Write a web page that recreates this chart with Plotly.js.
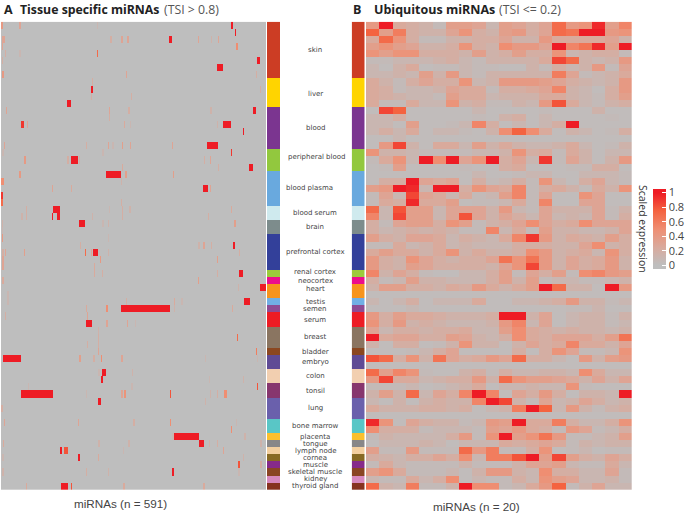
<!DOCTYPE html>
<html>
<head>
<meta charset="utf-8">
<script src="https://cdn.plot.ly/plotly-3.0.1.min.js"></script>
<style>html,body{margin:0;padding:0;background:#fff}#c{width:685px;height:514px}</style>
</head>
<body>
<div id="c"></div>
<script>
const tissues = ["skin","liver","blood","peripheral blood","blood plasma","blood serum","brain","prefrontal cortex","renal cortex","neocortex","heart","testis","semen","serum","breast","bladder","embryo","colon","tonsil","lung","bone marrow","placenta","tongue","lymph node","cornea","muscle","skeletal muscle","kidney","thyroid gland"];
const tissueRows = [8,4,6,3,5,2,2,5,1,1,2,1,1,2,3,1,2,2,2,3,2,1,1,1,1,1,1,1,1];
const tissueColors = ["#cc3d24","#ffd400","#7b3590","#92c83e","#69a9de","#cfeaee","#7d8c8c","#33409a","#9ccb3b","#ec0d8c","#f7941d","#71afe5","#8d4c94","#ed1c24","#8a7561","#8b4720","#5f4b95","#f2cfb0","#87366e","#6a60ac","#59c6c6","#fbc02d","#888788","#f3cf9f","#886a24","#862a8a","#8a4523","#d789be","#86321f"];
const labelShiftX = {"peripheral blood":2,"blood plasma":-6};
const labelShiftY = {"peripheral blood":3,"heart":2,"renal cortex":2,"liver":-1};

const ubiquitous = [
[.4,1,.25,.2,.15,.05,.35,.35,.3,.1,.35,.3,.2,.3,.7,.4,.45,.95,.35,.55],
[.75,.35,.6,.2,.15,.15,.3,.45,.2,.15,.35,.4,.2,.3,.7,.65,1,1,.4,.45],
[.25,.7,.45,.2,.05,.05,.15,.15,.2,.2,.3,.15,.15,.4,.25,.25,.25,.25,.3,.15],
[.35,.45,.35,.3,.15,.15,.2,.45,.2,.15,.5,.4,.4,.3,1,.55,.65,.95,.35,1],
[.45,.35,.45,.45,.2,.2,.2,.15,.35,.15,.2,.35,.2,.2,.45,.1,.15,.2,.2,.05],
[.05,.05,.1,.1,.1,.15,.2,.1,.05,.15,.15,.15,.15,.25,.85,.7,.15,.1,.15,.4],
[.1,.03,.15,.25,.03,.05,.05,.1,.05,.05,.03,.03,.15,.05,.2,.1,.15,.4,.05,.3],
[.1,.1,.15,.1,.35,.15,.4,.1,.05,.15,.15,.15,.15,.15,.6,.3,.05,.1,.15,.25],
[.25,.15,.05,.2,.3,.2,.2,.45,.1,.15,.4,.4,.4,.35,.3,.2,.15,.1,.15,.4],
[.25,.2,.05,.1,.1,.15,.3,.25,.25,.05,.2,.2,.25,.3,.55,.15,.1,.03,.2,.4],
[.25,.2,.15,.1,.1,.05,.35,.25,.25,.1,.15,.15,.15,.25,.25,.15,.1,.05,.2,.35],
[.25,.05,.05,.25,.1,.1,.45,.15,.2,.05,.05,.15,.1,.4,.8,.25,.1,.05,.15,.2],
[.03,.85,.75,.03,.03,.03,.03,.03,.1,.03,.03,.03,.03,.05,.03,.03,.03,.15,.03,.03],
[.1,.1,.2,.03,.03,.03,.03,.03,.05,.03,.15,.2,.03,.1,.03,.03,.03,.03,.05,.03],
[.1,.1,.03,.35,.03,.03,.05,.1,.55,.2,.03,.1,.03,.1,.2,1,.03,.03,.03,.03],
[.1,.2,.1,.25,.03,.1,.1,.05,.03,.15,.5,.75,.5,.25,.03,.15,.1,.03,.05,.2],
[.03,.03,.1,.03,.03,.03,.03,.03,.03,.03,.03,.03,.03,.03,.03,.03,.03,.03,.03,.03],
[.03,.4,.85,.15,.03,.25,.25,.1,.35,.15,.25,.15,.1,.1,.15,.25,.1,.03,.05,.15],
[.45,.15,.15,.1,.05,.05,.05,.05,.1,.1,.15,.45,.2,.25,.05,.25,.15,.03,.1,.1],
[.05,.25,.45,.1,1,.5,1,.3,.45,1,.2,.3,.1,.9,.05,.3,.15,.03,.15,.4],
[.03,.05,.35,.03,.03,.03,.03,.05,.03,.03,.2,.25,.03,.03,.03,.05,.05,.2,.2,.03],
[.03,.03,.03,.03,.03,.03,.03,.03,.1,.03,.03,.05,.1,.1,.03,.03,.1,.1,.1,.05],
[.03,.2,.2,1,.3,.25,.3,.03,.2,.05,.1,.2,.05,.45,.1,.03,.2,.3,.1,.05],
[.35,.4,1,.95,.1,1,1,.2,.45,.3,.25,.55,.05,.2,.25,.15,.05,.25,.15,.45],
[.05,.3,.1,.85,.3,.25,.1,.25,.05,.1,.35,.55,.05,.3,.03,.03,.45,.3,.03,.03],
[.05,.25,.2,.95,.25,.25,.35,.03,.05,.05,.1,.25,.05,.55,.03,.03,.3,.3,.03,.03],
[.7,.1,.8,.35,.35,.1,.3,.3,.3,.15,.4,.1,.05,.3,.15,.15,.15,.3,.05,.15],
[.55,.1,.85,.35,.35,.1,.3,.8,.3,.15,.3,.2,.1,.3,.1,.15,.1,.3,.05,.2],
[.2,.05,.3,.35,.35,.2,.45,.35,.05,.15,.2,.3,.5,.3,.2,.25,.5,.3,.3,.3],
[.2,.1,.15,.2,.15,.2,.15,.05,.05,.55,.1,.25,.05,.35,.15,.15,.1,.1,.15,.3],
[.35,.2,.15,.3,.3,.25,.1,.2,.15,.1,.25,.55,.9,.4,.15,.25,.2,.15,.35,.2],
[.05,.05,.25,.1,.15,.25,.1,.15,.1,.1,.1,.2,.2,.2,.15,.15,.3,.5,.15,.2],
[.25,.35,.25,.25,.15,.25,.45,.15,.25,.15,.15,.2,.5,.4,.15,.2,.25,.1,.45,.2],
[.4,.2,.15,.45,.3,.2,.15,.2,.2,.3,.65,.45,.65,.4,.15,.3,.2,.25,.4,.15],
[.4,.2,.15,.35,.3,.2,.2,.2,.2,.15,.3,.45,.85,.4,.15,.3,.2,.25,.4,.15],
[.55,.15,.3,.2,.05,.03,.03,.1,.1,.2,.35,.05,.3,.2,.35,.05,.5,.55,.4,.35],
[.2,.05,.1,.35,.15,.15,.1,.1,.1,.2,.35,.15,.35,.05,.1,.1,.05,.05,.1,.15],
[.15,.35,.35,.2,.2,.15,.25,.2,.4,.25,.15,.25,.35,1,.7,.15,.15,.03,1,.4],
[.03,.03,.03,.03,.03,.03,.03,.03,.03,.03,.03,.03,.03,.03,.03,.03,.03,.03,.03,.03],
[.1,.03,.1,.2,.03,.1,.1,.1,.25,.03,.03,.1,.1,.15,.2,.4,.15,.15,.05,.1],
[.03,.03,.03,.08,.03,.03,.03,.03,.03,.03,.03,.03,.03,.03,.03,.05,.05,.12,.03,.03],
[.4,.2,.35,.25,.25,.2,.15,.15,.15,.2,1,1,.15,.3,.03,.1,.15,.15,.05,.15],
[.45,.2,.4,.15,.2,.15,.1,.1,.1,.15,.4,.55,.1,.3,.03,.1,.15,.15,.05,.1],
[.3,.1,.2,.2,.15,.2,.2,.25,.1,.1,.35,.5,.25,.2,.15,.2,.15,.15,.1,.15],
[1,.25,.3,.3,.2,.2,.35,.3,.15,.1,.2,.5,.25,.2,.3,.3,.3,.2,.35,.65],
[.15,.03,.2,.2,.03,.05,.15,.45,.15,.15,.03,.15,.3,.2,.25,.55,.25,.25,.15,.3],
[.03,.03,.03,.05,.1,.2,.3,.03,.03,.03,.03,.2,.03,.2,.45,.3,.05,.05,.1,.45],
[.8,.7,.2,.45,.15,.65,.3,.2,.25,.4,.3,.7,.2,.2,.1,.03,.4,.15,.35,.4],
[.03,.03,.03,.03,.03,.03,.03,.03,.03,.03,.03,.03,.03,.03,.03,.03,.03,.03,.03,.03],
[.7,.35,.55,.45,.05,.03,.03,.15,.2,.05,.2,.1,.1,.15,.15,.1,.5,.25,.1,.1],
[.4,.85,.25,.25,.1,.15,.2,.2,.4,.15,.7,.45,.35,.35,.3,.25,.15,.3,.15,.3],
[.05,.05,.05,.1,.03,.05,.1,.15,.25,.03,.1,.1,.15,.1,.1,.45,.05,.03,.03,.03],
[.15,.35,.15,.7,.1,.3,.2,.55,1,.55,.03,.3,.2,.4,.2,.03,.15,.15,.1,1],
[.1,.03,.15,.03,.15,.2,.15,.15,.55,1,.85,.15,.05,.3,.1,.15,.3,.2,.1,.15],
[.25,.15,.15,.15,.2,.2,.15,.2,.03,.1,.15,.6,1,.75,.1,.4,.15,.05,.15,.2],
[.03,.03,.03,.03,.03,.03,.03,.03,.03,.03,.03,.03,.03,.03,.03,.03,.03,.03,.03,.03],
[.95,.45,.03,.3,.2,.15,.15,.05,.1,.4,.35,1,.25,.25,.6,.2,.1,.1,.2,.45],
[.5,.2,.2,.2,.05,.1,.1,.1,.05,.35,.3,.4,.25,.2,.05,.4,.3,.05,.1,.2],
[.05,.15,.1,.1,.1,.1,.2,.4,.05,.45,1,.35,.45,.65,.4,.05,.05,.1,.15,.35],
[.03,.1,.1,.1,.15,.1,.03,.1,.1,.1,.25,.2,.25,.3,.25,.05,.15,.1,.15,.15],
[.35,.05,.05,.4,.05,.05,.05,.7,.4,.6,.05,.05,.2,.45,.03,.05,.1,.03,.05,.05],
[.2,.15,.1,.2,.2,.3,.2,.5,.1,.6,.6,.8,1,.35,.85,.35,.2,.15,.3,.2],
[.05,.25,.1,.05,.05,.05,.05,.15,.05,.05,.05,.15,.3,.3,.35,.1,.05,.05,.25,.1],
[.35,.45,.25,.05,.05,.05,.1,.03,.15,.4,.4,.15,.1,.5,.2,.2,.1,.1,.3,.05],
[.1,.05,.05,.25,.1,.2,.5,.03,.1,.05,.05,.2,.1,.45,.35,.3,.1,.1,.15,.05],
[.7,.15,.1,.6,.05,.05,.15,1,.5,.5,.05,.1,.25,.4,.75,.05,.15,.3,.1,.1]
];

// panel A is almost all zero: [row, first miRNA, number of miRNAs, value]
const specificMarks = [
[0,1,3,.4],[0,41,3,.3],[0,214,3,.1],[0,514,3,1],
[1,521,4,1],
[2,3,3,.3],[2,7,3,.3],[2,244,3,.2],[2,268,3,.3],[2,282,3,.3],[2,375,6,1],[2,439,3,.3],[2,468,3,.15],[2,483,3,.3],
[3,2,3,.3],[3,524,4,.5],
[4,9,3,.2],[4,41,3,.1],[4,214,3,.7],
[5,2,3,.2],[5,572,5,1],
[6,482,13,1],
[7,2,4,.4],[7,279,3,.3],[7,569,3,.2],
[8,203,3,.2],
[9,201,4,1],[9,577,3,.2],
[10,200,3,.2],[10,289,3,.2],
[11,148,7,1],
[12,11,3,.3],[12,240,3,.3],[12,284,3,.2],[12,467,3,.15],[12,561,7,1],
[13,240,3,.2],
[14,45,7,.9],[14,57,4,.3],[14,274,3,.25],[14,287,3,.1],[14,481,3,.15],[14,495,18,1],
[15,539,4,1],
[17,6,3,.3],[17,189,3,.2],[17,238,3,.3],[17,248,3,.1],[17,270,3,.35],[17,287,3,.3],[17,381,3,.3],[17,459,24,1],
[18,3,3,.1],[18,226,3,.1],[18,512,3,.9],
[19,52,3,.4],[19,148,3,.2],[19,155,16,1],[19,174,3,.2],[19,452,3,.2],[19,466,3,.3],
[20,269,3,.25],[20,483,3,.2],[20,554,7,1],
[21,41,3,.4],[21,235,33,1],[21,277,3,.35],[21,383,3,.35],
[22,0,6,.5],[22,267,3,.15],
[23,114,3,.3],[23,156,3,.25],[23,451,10,1],[23,465,4,.3],
[24,0,4,.9],
[25,0,4,.7],[25,267,3,.2],
[26,55,3,.2],[26,117,15,1],[26,241,3,.1],[26,270,3,.2],[26,286,3,.15],[26,512,3,.25],
[27,45,3,.15],[27,55,3,.2],[27,113,4,1],[27,125,7,1],[27,203,3,.15],[27,270,3,.2],[27,461,3,.2],
[28,2,3,.15],[28,174,13,1],[28,226,3,.1],[28,238,3,.15],[28,519,4,.35],
[29,2,3,.1],
[30,2,3,.4],[30,238,3,.1],
[31,176,3,.2],[31,440,3,.15],[31,451,3,.3],[31,468,3,.2],[31,518,4,1],
[32,3,3,.2],[32,9,3,.3],[32,51,3,.35],[32,187,3,.7],[32,200,3,.3],[32,206,10,1],[32,238,3,.15],[32,530,3,.2],
[33,3,3,.3],[33,220,3,.4],[33,482,3,.35],
[34,3,3,.3],[34,207,3,.25],
[35,207,3,.25],[35,225,3,.2],[35,482,3,.2],[35,531,9,1],
[36,3,3,.25],[36,439,3,.35],
[37,528,3,.15],[37,578,13,1],
[38,14,3,.1],
[39,14,3,.1],[39,279,3,.2],[39,386,3,.25],[39,402,3,.1],[39,543,13,1],
[40,189,3,.25],[40,235,3,.5],[40,268,109,1],[40,385,3,.15],[40,515,3,.25],
[41,9,3,.2],[41,192,3,.3],
[42,189,13,1],[42,235,3,.3],[42,281,3,.3],[42,298,3,.1],
[43,216,3,.15],
[44,216,3,.2],[44,526,3,.7],
[45,192,3,.2],[45,216,3,.2],
[46,216,3,.3],[46,569,3,.6],
[47,4,40,1],[47,175,3,.35],[47,206,3,.2],[47,222,3,.5],[47,268,3,.3],[47,454,3,.1],[47,571,3,.1],
[49,217,3,.1],[49,225,10,1],[49,292,3,.15],
[50,222,5,1],[50,463,3,.1],[50,540,3,.15],
[51,60,3,.1],[51,291,3,.1],[51,571,3,.8],
[52,44,71,1],[52,189,3,.1],[52,268,3,.3],[52,275,3,.45],[52,377,3,.8],[52,465,3,.15],[52,482,3,.2],[52,497,6,.5],
[53,217,5,1],[53,454,3,.15],
[54,1,3,.2],
[56,6,3,.3],[56,171,3,.3],[56,295,3,.2],[56,376,3,.5],[56,523,3,.1],
[57,512,3,.5],
[58,382,3,.1],[58,385,56,1],[58,543,3,.15],
[59,4,3,.25],[59,217,3,.15],[59,284,3,.15],[59,441,11,1],[59,463,3,.15],[59,482,3,.2],[59,578,3,.15],
[60,132,4,1],[60,140,9,.8],[60,272,3,.1],[60,495,3,.3],
[61,3,3,.1],[61,172,4,1],[61,216,3,.25],[61,540,3,.15],
[62,529,4,.8],[62,578,3,.2],
[63,3,3,.15],[63,189,3,.2],[63,238,3,.15],[63,382,4,1],[63,529,3,.1],
[65,55,3,.25],[65,134,15,1],[65,156,3,.8],[65,273,3,.25],[65,451,3,.25]
];
const specificCount = 591;
const rowCount = 66;
const ubiquitousCount = 20;

const scale = [[0,'#bebebe'],[.05,'#bebebe'],[.27,'#d9aa9d'],[.5,'#ef8e72'],[.73,'#f4623f'],[.95,'#ee1c25'],[1,'#ee1c25']];

const specificZ = Array.from({length:rowCount},()=>new Array(specificCount).fill(0));
specificMarks.forEach(([r,c,n,v])=>{for(let i=c;i<c+n&&i<specificCount;i++)specificZ[r][i]=v;});

const sideZ=[];
tissueRows.forEach((n,t)=>{for(let i=0;i<n;i++)sideZ.push([t]);});
const nT=tissues.length;
const sideScale=[];
tissueColors.forEach((col,i)=>{sideScale.push([i/nT,col]);sideScale.push([(i+1)/nT,col]);});

const px=(a,b)=>[a/685,b/685];
const yDom=[1-490/514,1-21.7/514];
const xCommon={showgrid:false,zeroline:false,showticklabels:false,ticks:'',showline:false,fixedrange:true};
const yCommon={range:[rowCount-.5,-.5],showgrid:false,zeroline:false,showticklabels:false,ticks:'',showline:false,domain:yDom};

const side=(xa,ya)=>({type:'heatmap',z:sideZ,xaxis:xa,yaxis:ya,zmin:-.5,zmax:nT-.5,colorscale:sideScale,showscale:false,hoverinfo:'skip'});
const data=[
 {type:'heatmap',z:specificZ,xaxis:'x',yaxis:'y',coloraxis:'coloraxis',hoverinfo:'skip'},
 side('x2','y2'),side('x3','y3'),
 {type:'heatmap',z:ubiquitous,xaxis:'x4',yaxis:'y4',coloraxis:'coloraxis',hoverinfo:'skip'}
];

const ann=[];
const txt=(x,y,text,size,color,family,extra)=>ann.push(Object.assign({xref:'paper',yref:'paper',x:x/685,y:1-y/514,text,showarrow:false,font:{size,color,family},xanchor:'center',yanchor:'middle'},extra||{}));
const head='"Open Sans",sans-serif';
txt(2,9,'<b>A</b>',12.5,'#222',head,{xanchor:'left'});
txt(18,9,'<b>Tissue specific miRNAs</b>',12.3,'#222',head,{xanchor:'left'});
txt(162,9,'(TSI > 0.8)',12.3,'#555',head,{xanchor:'left'});
txt(351,9,'<b>B</b>',12.5,'#222',head,{xanchor:'left'});
txt(372,9,'<b>Ubiquitous miRNAs</b>',12.5,'#222',head,{xanchor:'left'});
txt(497,9,'(TSI <= 0.2)',12.3,'#555',head,{xanchor:'left'});
txt(120,503,'miRNAs (n = 591)',11.7,'#444','"Liberation Sans",Arial,sans-serif');
txt(476,506,'miRNAs (n = 20)',11.7,'#444','"Liberation Sans",Arial,sans-serif');
txt(643,229,'Scaled expression',10.5,'#333',head,{textangle:90});

let start=0;
tissues.forEach((t,i)=>{
  const mid=start+tissueRows[i]/2-.5; start+=tissueRows[i];
  ann.push({xref:'paper',yref:'y2',x:(315+(labelShiftX[t]||0))/685,y:mid,yshift:labelShiftY[t]||0,text:t,showarrow:false,xanchor:'center',yanchor:'middle',font:{size:7,color:'#444',family:'"DejaVu Sans",sans-serif'}});
});

const layout={
 width:685,height:514,margin:{l:0,r:0,t:0,b:0,autoexpand:false},paper_bgcolor:'#fff',plot_bgcolor:'#fff',showlegend:false,
 xaxis:Object.assign({},xCommon,{domain:px(1,266),range:[-.5,specificCount-.5]}),
 yaxis:Object.assign({},yCommon),
 xaxis2:Object.assign({},xCommon,{domain:px(267,280),range:[-.5,.5]}),
 yaxis2:Object.assign({},yCommon),
 xaxis3:Object.assign({},xCommon,{domain:px(351.7,364.7),range:[-.5,.5]}),
 yaxis3:Object.assign({},yCommon),
 xaxis4:Object.assign({},xCommon,{domain:px(366,631.7),range:[-.5,ubiquitousCount-.5]}),
 yaxis4:Object.assign({},yCommon),
 coloraxis:{cmin:-.05,cmax:1.05,colorscale:scale,colorbar:{
   x:653/685,xanchor:'left',xpad:0,ypad:0,y:1-189/514,yanchor:'top',lenmode:'pixels',len:80,thicknessmode:'pixels',thickness:13,
   outlinewidth:0,borderwidth:0,tickmode:'array',tickvals:[0,.2,.4,.6,.8,1],ticktext:['0','0.2','0.4','0.6','0.8','1'],
   ticks:'inside',ticklen:4,tickcolor:'#fff',tickwidth:1,tickfont:{size:11,color:'#444',family:head}}},
 annotations:ann
};
Plotly.newPlot('c',data,layout,{displayModeBar:false,staticPlot:true});
</script>
</body>
</html>
